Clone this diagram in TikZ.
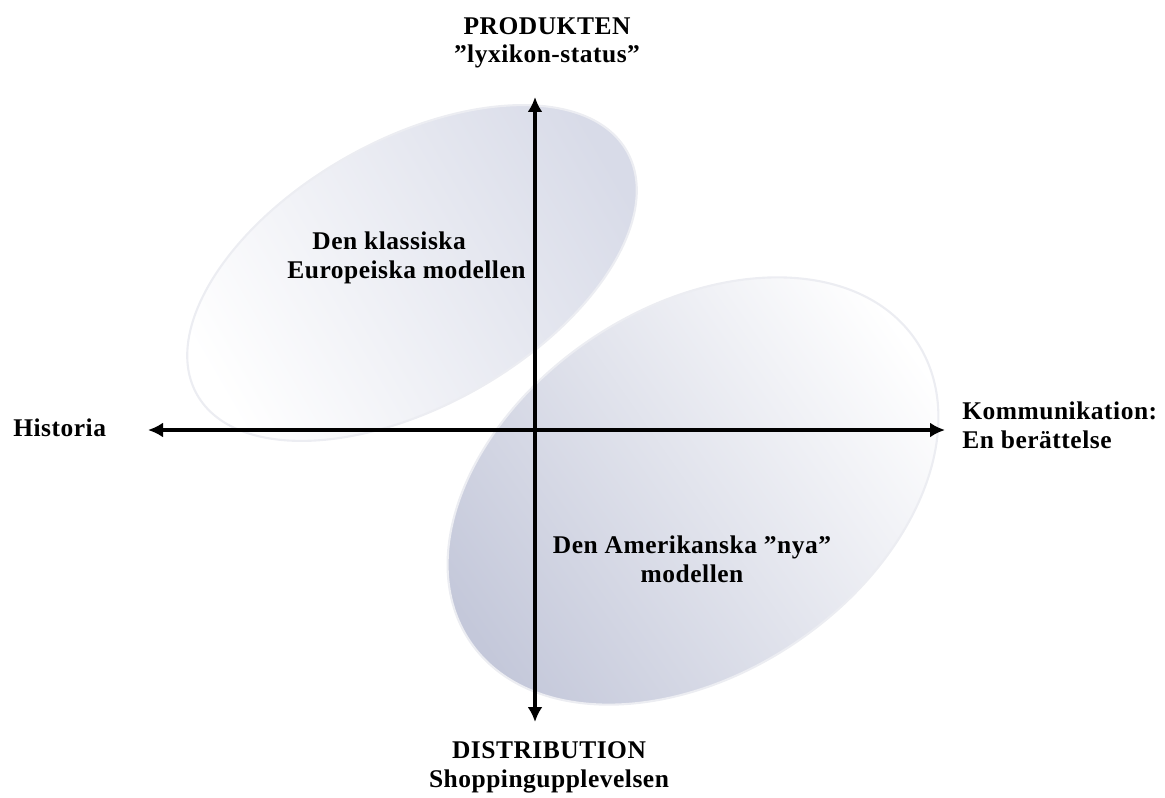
\documentclass[tikz,border=0pt]{standalone}
\usepackage{fontspec}
\setmainfont{Liberation Serif}
\usetikzlibrary{arrows.meta}
\definecolor{blob}{RGB}{196,200,218}
\definecolor{blobpale}{RGB}{216,219,232}
\definecolor{rim}{RGB}{236,237,242}
\begin{document}
\begin{tikzpicture}[x=0.02cm,y=-0.02cm,
  lbl/.style={font=\bfseries\fontsize{14.5}{16}\selectfont\addfontfeatures{LetterSpace=2}, inner sep=0pt, text=black},
  axis/.style={line width=2.3pt, {Latex[length=0.3cm,width=0.3cm]}-{Latex[length=0.3cm,width=0.3cm]}},
  blobline/.style={draw=rim, line width=1.2pt}]
\useasboundingbox (0,0) rectangle (1165,797);
% two tilted model regions
\shade[blobline, left color=white, right color=blobpale, shading angle=120]
  [rotate around={29.5:(412,273)}] (412,273) ellipse [x radius=247, y radius=133];
\shade[blobline, left color=white, right color=blob, shading angle=-55]
  [rotate around={34:(693,491)}] (693,491) ellipse [x radius=269, y radius=183];
% axis end points
\coordinate (top) at (535,97);
\coordinate (bottom) at (535,722);
\coordinate (left) at (148,430);
\coordinate (right) at (945,430);
\draw[axis] (bottom) -- (top);
\draw[axis] (left) -- (right);
% axis labels (base anchor sits on the last line)
\node[lbl, align=center, anchor=base] (prod) at (547,63)
  {PRODUKTEN\\”lyxikon-status”};
\node[lbl, anchor=base west] (hist) at (13,436) {Historia};
\node[lbl, align=left, anchor=base west] (komm) at (962,448)
  {Kommunikation:\\En berättelse};
\node[lbl, align=center, anchor=base] (dist) at (549,787)
  {DISTRIBUTION\\Shoppingupplevelsen};
% model labels
\node[lbl, align=left, anchor=base west] (euro) at (287,278)
  {\hspace*{0.5cm}Den klassiska\\Europeiska modellen};
\node[lbl, align=center, anchor=base] (amer) at (692,582)
  {Den Amerikanska ”nya”\\modellen};
\end{tikzpicture}
\end{document}
